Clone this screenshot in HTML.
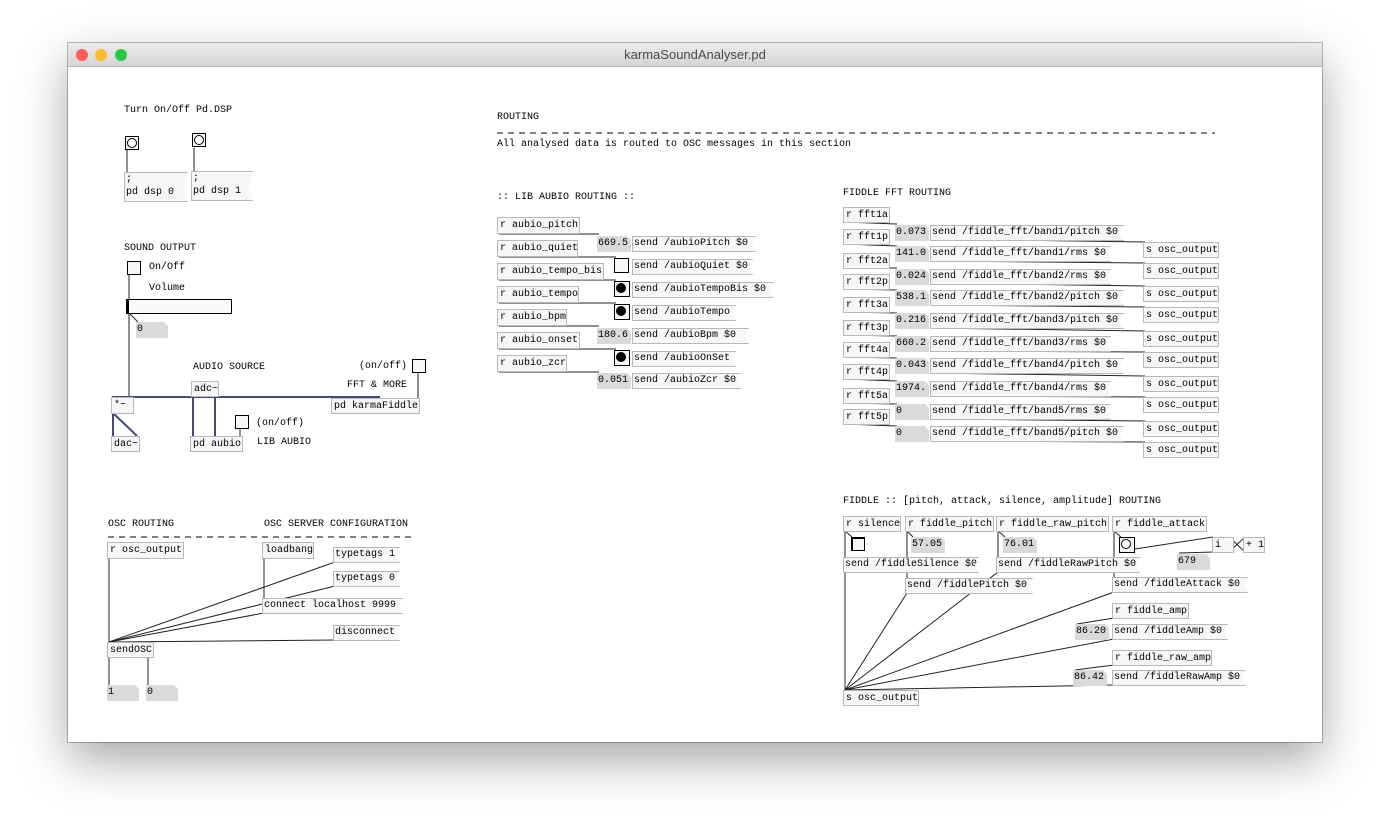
<!DOCTYPE html>
<html><head><meta charset="utf-8"><style>
body{margin:0;width:1390px;height:834px;background:#fff;position:relative;overflow:hidden;font-family:"Liberation Mono",monospace;}
.win{position:absolute;left:68px;top:43px;width:1254px;height:699px;background:#fff;box-shadow:0 18px 45px rgba(0,0,0,.35),0 0 0 1px #bdbdbd;}
.tb{position:absolute;left:68px;top:43px;width:1254px;height:23px;background:linear-gradient(#ececec,#d4d4d4);border-bottom:1px solid #b4b4b4;}
.tl{position:absolute;top:6px;width:12px;height:12px;border-radius:50%;}
.title{position:absolute;left:0;right:0;top:4px;text-align:center;font:13px "Liberation Sans",sans-serif;color:#4a4a4a;}
.o,.m,.n{position:absolute;font-size:10px;line-height:15px;height:16px;white-space:pre;padding:0 2px;box-sizing:border-box;color:#000;}
.o{border:1px solid #b8b8b8;background:#f6f6f6;}
.m{border:1px solid #b8b8b8;border-right:none;background:#f6f6f6;box-sizing:content-box;height:14px;line-height:14px;padding:0 4px 0 1px;clip-path:polygon(0 0,100% 0,calc(100% - 4px) 50%,100% 100%,0 100%);}
.n{background:#d9d9d9;padding:0 1px;clip-path:polygon(0 0,calc(100% - 4px) 0,100% 4px,100% 100%,0 100%);}
.c{position:absolute;font-size:10px;white-space:pre;line-height:12px;color:#000;}
.bg{position:absolute;width:14px;height:14px;border:1px solid #000;background:#f6f6f6;box-sizing:border-box;}
.bg::after{content:"";position:absolute;left:1px;top:1px;width:10px;height:10px;border:1px solid #000;border-radius:50%;box-sizing:border-box;background:#fff;}
.bg.on::after{background:#000;}
.tg{position:absolute;width:14px;height:14px;border:1px solid #000;background:#f6f6f6;box-sizing:border-box;}
svg{position:absolute;left:0;top:0;}
</style></head><body>
<div class="win"></div>
<div class="tb"><div class="tl" style="left:8px;background:#fc5f57"></div><div class="tl" style="left:27px;background:#fdbc2e"></div><div class="tl" style="left:47px;background:#28c840"></div><div class="title">karmaSoundAnalyser.pd</div></div>

<svg width="1390" height="834">
<g stroke="#222" stroke-width="1" fill="none">
<line x1="127" y1="150" x2="127" y2="172"/><line x1="194" y1="148" x2="194" y2="171"/>
<line x1="129" y1="275" x2="129" y2="397"/><line x1="129" y1="313" x2="138" y2="322"/>
<line x1="418" y1="373" x2="418" y2="398"/><line x1="240" y1="429" x2="240" y2="436"/>
<line x1="499" y1="234" x2="599" y2="234"/><line x1="499" y1="257" x2="616" y2="257"/>
<line x1="499" y1="280" x2="616" y2="280"/><line x1="499" y1="303" x2="616" y2="303"/>
<line x1="499" y1="326" x2="599" y2="326"/><line x1="499" y1="349" x2="616" y2="349"/>
<line x1="499" y1="372" x2="599" y2="372"/>
<line x1="845" y1="222" x2="897" y2="224"/><line x1="845" y1="244" x2="897" y2="246"/>
<line x1="845" y1="268" x2="897" y2="268"/><line x1="845" y1="289" x2="897" y2="290"/>
<line x1="845" y1="312" x2="897" y2="313"/><line x1="845" y1="335" x2="897" y2="336"/>
<line x1="845" y1="357" x2="897" y2="358"/><line x1="845" y1="379" x2="897" y2="381"/>
<line x1="845" y1="403" x2="897" y2="404"/><line x1="845" y1="424" x2="897" y2="426"/>
<line x1="932" y1="239" x2="1145" y2="242"/><line x1="932" y1="261" x2="1145" y2="263"/>
<line x1="932" y1="283" x2="1145" y2="286"/><line x1="932" y1="305" x2="1145" y2="307"/>
<line x1="932" y1="328" x2="1145" y2="331"/><line x1="932" y1="351" x2="1145" y2="352"/>
<line x1="932" y1="373" x2="1145" y2="376"/><line x1="932" y1="396" x2="1145" y2="397"/>
<line x1="932" y1="419" x2="1145" y2="421"/><line x1="932" y1="441" x2="1145" y2="442"/>
<line x1="109" y1="559" x2="109" y2="642"/><line x1="264" y1="558" x2="264" y2="598"/>
<line x1="335" y1="562" x2="109" y2="642"/><line x1="335" y1="586" x2="109" y2="642"/>
<line x1="264" y1="613" x2="109" y2="642"/><line x1="335" y1="640" x2="109" y2="642"/>
<line x1="109" y1="657" x2="109" y2="685"/><line x1="148" y1="657" x2="148" y2="685"/>
<line x1="845" y1="531" x2="845" y2="557"/><line x1="845" y1="531" x2="852" y2="537"/>
<line x1="907" y1="531" x2="907" y2="578"/><line x1="907" y1="531" x2="913" y2="537"/>
<line x1="998" y1="531" x2="998" y2="557"/><line x1="998" y1="531" x2="1005" y2="537"/>
<line x1="1114" y1="531" x2="1114" y2="577"/><line x1="1114" y1="531" x2="1121" y2="537"/>
<line x1="1135" y1="549" x2="1213" y2="537"/><line x1="1214" y1="552" x2="1179" y2="553"/>
<line x1="1229" y1="537" x2="1245" y2="552"/><line x1="1245" y1="537" x2="1229" y2="552"/>
<line x1="845" y1="572" x2="845" y2="690"/><line x1="907" y1="593" x2="845" y2="690"/>
<line x1="998" y1="572" x2="845" y2="690"/><line x1="1114" y1="592" x2="845" y2="690"/>
<line x1="1114" y1="639" x2="845" y2="690"/><line x1="1114" y1="685" x2="845" y2="690"/>
<line x1="1114" y1="618" x2="1077" y2="624"/><line x1="1114" y1="665" x2="1075" y2="670"/>
</g>
<g stroke="#444a78" stroke-width="2" fill="none">
<line x1="112" y1="397" x2="380" y2="397"/><line x1="193" y1="397" x2="193" y2="436"/><line x1="215" y1="397" x2="215" y2="436"/>
<line x1="113" y1="413" x2="113" y2="436"/><line x1="113" y1="413" x2="137" y2="436"/>
</g>
<g stroke="#000" stroke-dasharray="6,5"><line x1="497" y1="133" x2="1215" y2="133"/><line x1="108" y1="537" x2="413" y2="537"/></g>
<g stroke="#000" stroke-width="1"><path d="M236 416 L248 428 M248 416 L236 428 M615 259 L628 272 M628 259 L615 272 M413 360 L425 372 M425 360 L413 372"/></g>
</svg>

<div class="c" style="left:124px;top:105px">Turn On/Off Pd.DSP</div>
<div class="bg" style="left:125px;top:136px"></div><div class="bg" style="left:192px;top:133px"></div>
<div class="m" style="left:124px;top:172px;width:58px;height:28px;line-height:13px">;
pd dsp 0</div>
<div class="m" style="left:191px;top:171px;width:56px;height:28px;line-height:13px">;
pd dsp 1</div>
<div class="c" style="left:124px;top:243px">SOUND OUTPUT</div>
<div class="tg" style="left:127px;top:261px"></div><div class="c" style="left:149px;top:262px">On/Off</div>
<div class="c" style="left:149px;top:283px">Volume</div>
<div style="position:absolute;left:126px;top:299px;width:106px;height:15px;border:1px solid #000;box-sizing:border-box;background:#fafafa;border-left:3px solid #000"></div>
<div class="n" style="left:136px;top:322px;width:32px">0</div>
<div class="c" style="left:193px;top:362px">AUDIO SOURCE</div>
<div class="o" style="left:191px;top:381px;width:28px">adc~</div>
<div class="o" style="left:111px;top:397px;width:23px;height:17px">*~</div>
<div class="o" style="left:111px;top:436px;width:29px;height:16px">dac~</div>
<div class="o" style="left:190px;top:436px;width:53px;height:16px">pd aubio</div>
<div class="tg" style="left:235px;top:415px"></div>
<div class="c" style="left:256px;top:418px">(on/off)</div><div class="c" style="left:257px;top:437px">LIB AUBIO</div>
<div class="c" style="left:359px;top:361px">(on/off)</div><div class="tg" style="left:412px;top:359px"></div>
<div class="c" style="left:347px;top:380px">FFT &amp; MORE</div>
<div class="o" style="left:331px;top:398px;width:89px;height:16px">pd karmaFiddle</div>

<div class="c" style="left:497px;top:112px">ROUTING</div>
<div class="c" style="left:497px;top:139px">All analysed data is routed to OSC messages in this section</div>
<div class="c" style="left:497px;top:192px">:: LIB AUBIO ROUTING ::</div>
<div class="o" style="left:497px;top:217px;width:83px;height:17px">r aubio_pitch</div>
<div class="o" style="left:497px;top:240px;width:81px;height:17px">r aubio_quiet</div>
<div class="o" style="left:497px;top:263px;width:107px;height:17px">r aubio_tempo_bis</div>
<div class="o" style="left:497px;top:286px;width:82px;height:17px">r aubio_tempo</div>
<div class="o" style="left:497px;top:309px;width:70px;height:17px">r aubio_bpm</div>
<div class="o" style="left:497px;top:332px;width:83px;height:17px">r aubio_onset</div>
<div class="o" style="left:497px;top:355px;width:70px;height:17px">r aubio_zcr</div>
<div class="n" style="left:597px;top:236px;width:34px">669.5</div>
<div class="tg" style="left:614px;top:258px;width:15px;height:15px"></div>
<div class="bg on" style="left:614px;top:281px;width:16px;height:16px"></div>
<div class="bg on" style="left:614px;top:304px;width:16px;height:16px"></div>
<div class="n" style="left:597px;top:328px;width:34px">180.6</div>
<div class="bg on" style="left:614px;top:350px;width:16px;height:16px"></div>
<div class="n" style="left:597px;top:373px;width:34px">0.051</div>
<div class="m" style="left:632px;top:236px;width:118px">send /aubioPitch $0</div>
<div class="m" style="left:632px;top:259px;width:115px">send /aubioQuiet $0</div>
<div class="m" style="left:632px;top:282px;width:136px">send /aubioTempoBis $0</div>
<div class="m" style="left:632px;top:305px;width:98px">send /aubioTempo</div>
<div class="m" style="left:632px;top:328px;width:111px">send /aubioBpm $0</div>
<div class="m" style="left:632px;top:351px;width:98px">send /aubioOnSet</div>
<div class="m" style="left:632px;top:373px;width:103px">send /aubioZcr $0</div>

<div class="c" style="left:843px;top:188px">FIDDLE FFT ROUTING</div>
<div class="o" style="left:843px;top:207px;width:47px">r fft1a</div>
<div class="o" style="left:843px;top:229px;width:47px">r fft1p</div>
<div class="o" style="left:843px;top:253px;width:47px">r fft2a</div>
<div class="o" style="left:843px;top:274px;width:47px">r fft2p</div>
<div class="o" style="left:843px;top:297px;width:47px">r fft3a</div>
<div class="o" style="left:843px;top:320px;width:47px">r fft3p</div>
<div class="o" style="left:843px;top:342px;width:47px">r fft4a</div>
<div class="o" style="left:843px;top:364px;width:47px">r fft4p</div>
<div class="o" style="left:843px;top:388px;width:47px">r fft5a</div>
<div class="o" style="left:843px;top:409px;width:47px">r fft5p</div>
<div class="n" style="left:895px;top:225px;width:34px">0.073</div>
<div class="n" style="left:895px;top:246px;width:34px">141.0</div>
<div class="n" style="left:895px;top:269px;width:34px">0.024</div>
<div class="n" style="left:895px;top:290px;width:34px">538.1</div>
<div class="n" style="left:895px;top:313px;width:34px">0.216</div>
<div class="n" style="left:895px;top:336px;width:34px">660.2</div>
<div class="n" style="left:895px;top:358px;width:34px">0.043</div>
<div class="n" style="left:895px;top:381px;width:34px">1974.</div>
<div class="n" style="left:895px;top:404px;width:34px">0</div>
<div class="n" style="left:895px;top:426px;width:34px">0</div>
<div class="m" style="left:930px;top:225px;width:188px">send /fiddle_fft/band1/pitch $0</div>
<div class="m" style="left:930px;top:246px;width:175px">send /fiddle_fft/band1/rms $0</div>
<div class="m" style="left:930px;top:269px;width:175px">send /fiddle_fft/band2/rms $0</div>
<div class="m" style="left:930px;top:290px;width:188px">send /fiddle_fft/band2/pitch $0</div>
<div class="m" style="left:930px;top:313px;width:188px">send /fiddle_fft/band3/pitch $0</div>
<div class="m" style="left:930px;top:336px;width:175px">send /fiddle_fft/band3/rms $0</div>
<div class="m" style="left:930px;top:358px;width:188px">send /fiddle_fft/band4/pitch $0</div>
<div class="m" style="left:930px;top:381px;width:175px">send /fiddle_fft/band4/rms $0</div>
<div class="m" style="left:930px;top:404px;width:175px">send /fiddle_fft/band5/rms $0</div>
<div class="m" style="left:930px;top:426px;width:188px">send /fiddle_fft/band5/pitch $0</div>
<div class="o" style="left:1143px;top:242px;width:76px;height:16px">s osc_output</div>
<div class="o" style="left:1143px;top:263px;width:76px;height:16px">s osc_output</div>
<div class="o" style="left:1143px;top:286px;width:76px;height:16px">s osc_output</div>
<div class="o" style="left:1143px;top:307px;width:76px;height:16px">s osc_output</div>
<div class="o" style="left:1143px;top:331px;width:76px;height:16px">s osc_output</div>
<div class="o" style="left:1143px;top:352px;width:76px;height:16px">s osc_output</div>
<div class="o" style="left:1143px;top:376px;width:76px;height:16px">s osc_output</div>
<div class="o" style="left:1143px;top:397px;width:76px;height:16px">s osc_output</div>
<div class="o" style="left:1143px;top:421px;width:76px;height:16px">s osc_output</div>
<div class="o" style="left:1143px;top:442px;width:76px;height:16px">s osc_output</div>

<div class="c" style="left:843px;top:496px">FIDDLE :: [pitch, attack, silence, amplitude] ROUTING</div>
<div class="o" style="left:843px;top:516px;width:58px;height:16px">r silence</div>
<div class="o" style="left:905px;top:516px;width:89px;height:16px">r fiddle_pitch</div>
<div class="o" style="left:996px;top:516px;width:113px;height:16px">r fiddle_raw_pitch</div>
<div class="o" style="left:1112px;top:516px;width:95px;height:16px">r fiddle_attack</div>
<div class="tg" style="left:851px;top:537px;border-width:2px 1px 1px 2px"></div>
<div class="n" style="left:911px;top:537px;width:34px">57.05</div>
<div class="n" style="left:1003px;top:537px;width:34px">76.01</div>
<div class="bg" style="left:1119px;top:537px;width:16px;height:16px"></div>
<div class="o" style="left:1212px;top:537px;width:22px;height:16px">i</div>
<div class="o" style="left:1243px;top:537px;width:22px;height:16px">+ 1</div>
<div class="n" style="left:1177px;top:554px;width:33px">679</div>
<div class="m" style="left:843px;top:557px;width:130px">send /fiddleSilence $0</div>
<div class="m" style="left:996px;top:557px;width:138px">send /fiddleRawPitch $0</div>
<div class="m" style="left:905px;top:578px;width:122px">send /fiddlePitch $0</div>
<div class="m" style="left:1112px;top:577px;width:130px">send /fiddleAttack $0</div>
<div class="o" style="left:1112px;top:603px;width:77px;height:16px">r fiddle_amp</div>
<div class="n" style="left:1075px;top:624px;width:34px">86.20</div>
<div class="m" style="left:1112px;top:624px;width:110px">send /fiddleAmp $0</div>
<div class="o" style="left:1112px;top:650px;width:100px;height:16px">r fiddle_raw_amp</div>
<div class="n" style="left:1073px;top:670px;width:34px">86.42</div>
<div class="m" style="left:1112px;top:670px;width:128px">send /fiddleRawAmp $0</div>
<div class="o" style="left:843px;top:690px;width:76px;height:16px">s osc_output</div>

<div class="c" style="left:108px;top:519px">OSC ROUTING</div>
<div class="c" style="left:264px;top:519px">OSC SERVER CONFIGURATION</div>
<div class="o" style="left:107px;top:542px;width:77px;height:17px">r osc_output</div>
<div class="o" style="left:262px;top:542px;width:52px;height:17px">loadbang</div>
<div class="m" style="left:333px;top:547px;width:61px">typetags 1</div>
<div class="m" style="left:333px;top:571px;width:61px">typetags 0</div>
<div class="m" style="left:262px;top:598px;width:135px">connect localhost 9999</div>
<div class="m" style="left:333px;top:625px;width:61px">disconnect</div>
<div class="o" style="left:107px;top:642px;width:47px;height:16px">sendOSC</div>
<div class="n" style="left:107px;top:685px;width:32px">1</div>
<div class="n" style="left:146px;top:685px;width:32px">0</div>
</body></html>
